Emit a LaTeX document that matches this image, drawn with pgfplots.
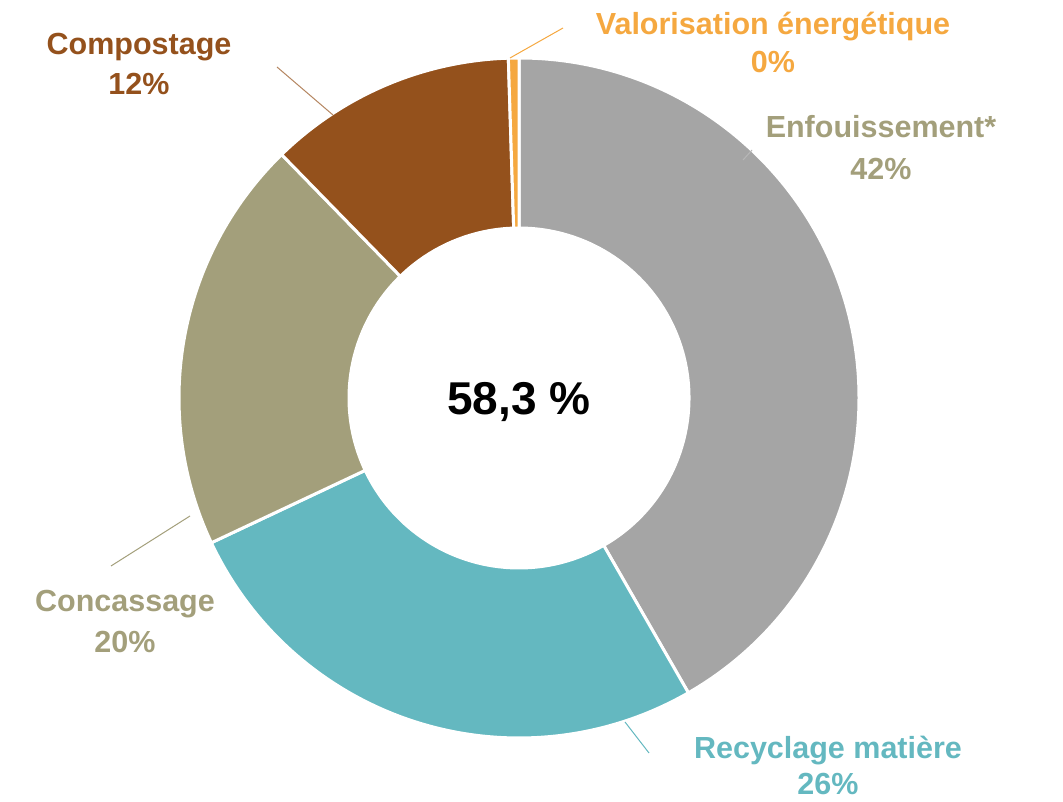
\documentclass[border=0pt]{standalone}
\usepackage{fontspec}
\setmainfont{Liberation Sans}
\usepackage{pgfplots}
\usepackage{pgfplotstable}
\pgfplotsset{compat=1.18}

\definecolor{cgray}{HTML}{A5A5A5}
\definecolor{cteal}{HTML}{64B8C0}
\definecolor{ckhaki}{HTML}{A39F7B}
\definecolor{cbrown}{HTML}{94511C}
\definecolor{corange}{HTML}{F5A840}

\pgfplotstableread{
label value
Enfouissement 41.7
Recyclage 26.3
Concassage 19.7
Compostage 11.8
Valorisation 0.5
}\datatable

\newcommand\slice[3]{%
  \filldraw[fill=#1, draw=white, line width=3pt, shift={(axis cs:519,403)}]
    (#2:340pt) arc[start angle=#2, end angle=#3, radius=340pt]
    -- (#3:170pt) arc[start angle=#3, end angle=#2, radius=170pt] -- cycle;}

\begin{document}
\begin{tikzpicture}
\pgfplotstablegetelem{0}{value}\of\datatable \let\vA\pgfplotsretval
\pgfplotstablegetelem{1}{value}\of\datatable \let\vB\pgfplotsretval
\pgfplotstablegetelem{2}{value}\of\datatable \let\vC\pgfplotsretval
\pgfplotstablegetelem{3}{value}\of\datatable \let\vD\pgfplotsretval
\pgfplotstablegetelem{4}{value}\of\datatable \let\vE\pgfplotsretval
\pgfmathsetmacro\aA{90}
\pgfmathsetmacro\aB{\aA-3.6*\vA}
\pgfmathsetmacro\aC{\aB-3.6*\vB}
\pgfmathsetmacro\aD{\aC-3.6*\vC}
\pgfmathsetmacro\aE{\aD-3.6*\vD}
\pgfmathsetmacro\aF{\aE-3.6*\vE}
\begin{axis}[
  scale only axis, width=1063pt, height=801pt,
  xmin=0, xmax=1063, ymin=0, ymax=801,
  enlargelimits=false, hide axis, clip=false,
  font=\bfseries\fontsize{30.5}{36}\selectfont,
  every node/.append style={inner sep=0pt},
]
\path (rel axis cs:0,0) rectangle (rel axis cs:1,1);
\slice{cgray}{\aA}{\aB}
\slice{cteal}{\aB}{\aC}
\slice{ckhaki}{\aC}{\aD}
\slice{cbrown}{\aD}{\aE}
\slice{corange}{\aE}{\aF}

% leader lines
\draw[corange, line width=1pt] (axis cs:510,743) -- (axis cs:563,773);
\draw[cgray!80, line width=1pt] (axis cs:743,641) -- (axis cs:752,651);
\draw[cbrown!70, line width=1pt] (axis cs:277,734) -- (axis cs:333,686);
\draw[ckhaki, line width=1pt] (axis cs:111,235) -- (axis cs:190,285);
\draw[cteal, line width=1pt] (axis cs:625,79) -- (axis cs:649,48);

% labels
\node[corange, anchor=base] at (axis cs:773,766) {Valorisation énergétique};
\node[corange, anchor=base] at (axis cs:773,728) {0\%};
\node[ckhaki, anchor=base] at (axis cs:881,663) {Enfouissement*};
\node[ckhaki, anchor=base] at (axis cs:881,621) {42\%};
\node[cbrown, anchor=base] at (axis cs:139,746) {Compostage};
\node[cbrown, anchor=base] at (axis cs:139,706) {12\%};
\node[ckhaki, anchor=base] at (axis cs:125,189) {Concassage};
\node[ckhaki, anchor=base] at (axis cs:125,149) {20\%};
\node[cteal, anchor=base] at (axis cs:828,43) {Recyclage matière};
\node[cteal, anchor=base] at (axis cs:828,7) {26\%};
\node[black, anchor=base, font=\bfseries\fontsize{46}{52}\selectfont] at (axis cs:519,386) {58,3 \%};
\end{axis}
\end{tikzpicture}
\end{document}
